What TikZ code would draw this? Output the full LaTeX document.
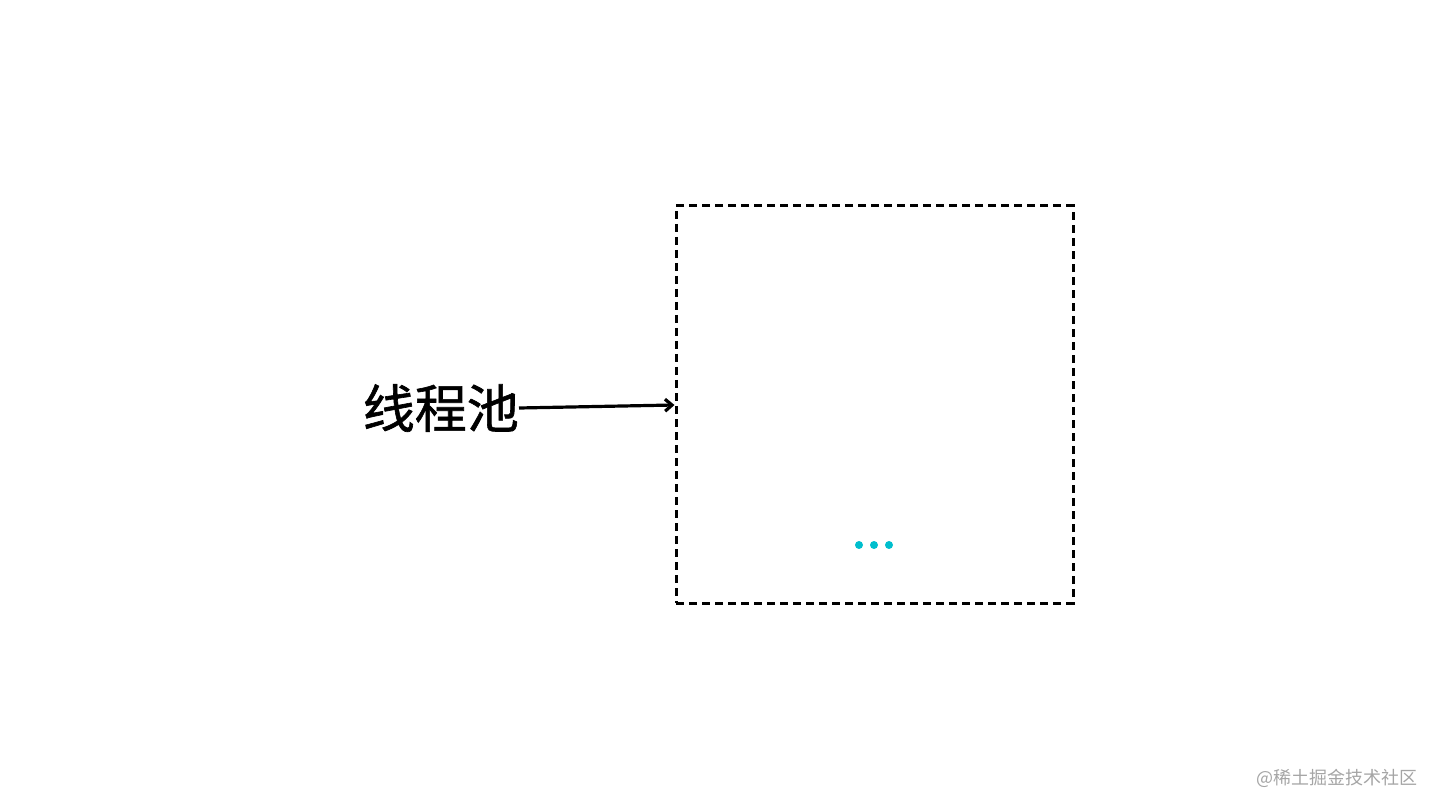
\documentclass[tikz,border=0pt]{standalone}
\usepackage{fontspec}
\newfontfamily\cjk{Noto Sans CJK SC}
\newfontfamily\cjkheavy[FakeBold=1.2]{Noto Sans CJK SC}
\usetikzlibrary{arrows.meta,positioning}
\definecolor{dotcyan}{RGB}{0,190,205}
\definecolor{markgray}{RGB}{165,165,165}
\tikzset{
  poolbox/.style={draw,line width=3pt,dash pattern=on 8pt off 5pt,minimum width=397pt,minimum height=397pt,inner sep=0pt},
  pooldot/.style={circle,fill=dotcyan,inner sep=0pt,minimum size=8pt},
  poollabel/.style={font=\cjkheavy\fontsize{52}{52}\selectfont,inner sep=0pt}
}
\begin{document}
\begin{tikzpicture}[x=1pt,y=-1pt]
    \useasboundingbox (0,0) rectangle (1440,810);

    % the pool
    \node[poolbox] (pool) at (874.5,404.5) {};
    \node[poollabel,anchor=east] (name) at (519,408) {线程池};
    \coordinate (in) at (pool.west |- 0,405);
    \draw[line width=3.2pt,-{Straight Barb[length=7pt,width=12pt]}] (name.east) -- (in);

    % dots
    \foreach \k in {0,1,2} {
      \node[pooldot] (dot\k) at (859+15*\k,545) {};
    }

    \node[font=\cjk\fontsize{18}{18}\selectfont,text=markgray,anchor=east,inner sep=0pt] (mark) at (1418,778) {@稀土掘金技术社区};
\end{tikzpicture}
\end{document}
